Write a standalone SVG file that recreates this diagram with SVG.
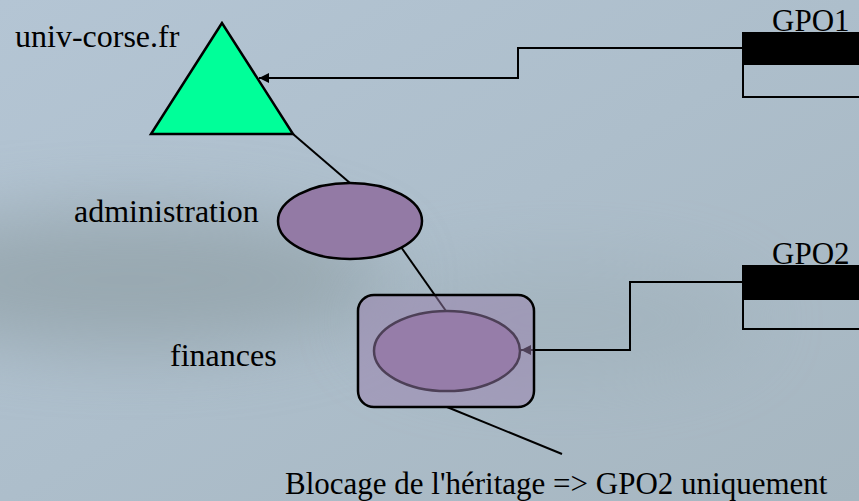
<svg xmlns="http://www.w3.org/2000/svg" width="859" height="501" viewBox="0 0 859 501">
  <defs>
    <linearGradient id="bg" x1="0" y1="0" x2="1" y2="1">
      <stop offset="0" stop-color="#b4c5d4"/>
      <stop offset="0.5" stop-color="#adbecb"/>
      <stop offset="1" stop-color="#a6b6c0"/>
    </linearGradient>
    <filter id="blur" x="-50%" y="-50%" width="200%" height="200%">
      <feGaussianBlur stdDeviation="35"/>
    </filter>
    <marker id="arrow" viewBox="0 0 10 10" refX="10" refY="5" markerWidth="10" markerHeight="10" markerUnits="userSpaceOnUse" orient="auto">
      <path d="M0,0 L10,5 L0,10 z" fill="#000"/>
    </marker>
    <style>
      .lbl { font-family: 'Liberation Serif', 'Times New Roman', serif; font-size: 31px; fill: #000; }
      .big { font-size: 32px; }
      .conn { fill: none; stroke: #000; stroke-width: 2; }
      .ell { fill: #937aa5; stroke: #000; stroke-width: 2.5; }
      .gpobar { fill: #000; }
      .gpobox { fill: none; stroke: #000; stroke-width: 2; }
    </style>
  </defs>

  <!-- background -->
  <rect x="0" y="0" width="859" height="501" fill="url(#bg)"/>
  <ellipse cx="130" cy="280" rx="260" ry="70" fill="#8a9a9f" opacity="0.6" filter="url(#blur)"/>
  <ellipse cx="560" cy="320" rx="200" ry="60" fill="#98a9b0" opacity="0.35" filter="url(#blur)"/>

  <!-- connectors -->
  <g id="connectors">
    <polyline class="conn" points="742,48 518,48 518,78 259,78" marker-end="url(#arrow)"/>
    <polyline class="conn" points="742,282 630,282 630,350 521,350" marker-end="url(#arrow)"/>
    <line class="conn" x1="293" y1="134" x2="350" y2="183"/>
    <line class="conn" x1="401" y1="247" x2="446" y2="311"/>
    <line class="conn" x1="447" y1="407" x2="562" y2="454"/>
  </g>

  <!-- univ-corse.fr -->
  <g id="univ-corse">
    <polygon points="222,23 151,134 293,134" fill="#00ff99" stroke="#000" stroke-width="2.5" stroke-linejoin="miter"/>
    <text class="lbl big" x="15" y="47">univ-corse.fr</text>
  </g>

  <!-- administration -->
  <g id="administration">
    <ellipse class="ell" cx="350" cy="221" rx="72" ry="38"/>
    <text class="lbl big" x="74" y="222">administration</text>
  </g>

  <!-- finances -->
  <g id="finances">
    <ellipse class="ell" cx="447" cy="351" rx="73" ry="40"/>
    <rect x="358" y="295" width="176" height="112" rx="16" ry="16" fill="#9a7fae" fill-opacity="0.5" stroke="#000" stroke-width="2.5"/>
    <text class="lbl big" x="170" y="366">finances</text>
  </g>

  <!-- GPO1 -->
  <g id="gpo1">
    <text class="lbl" x="772" y="31">GPO1</text>
    <rect class="gpobar" x="742" y="32" width="130" height="32"/>
    <rect class="gpobox" x="743" y="64" width="130" height="33"/>
  </g>

  <!-- GPO2 -->
  <g id="gpo2">
    <text class="lbl" x="772" y="264">GPO2</text>
    <rect class="gpobar" x="742" y="265" width="130" height="34"/>
    <rect class="gpobox" x="743" y="299" width="130" height="30"/>
  </g>

  <!-- note -->
  <g id="note">
    <text class="lbl" x="285" y="494">Blocage de l'héritage =&gt; GPO2 uniquement</text>
  </g>
</svg>
